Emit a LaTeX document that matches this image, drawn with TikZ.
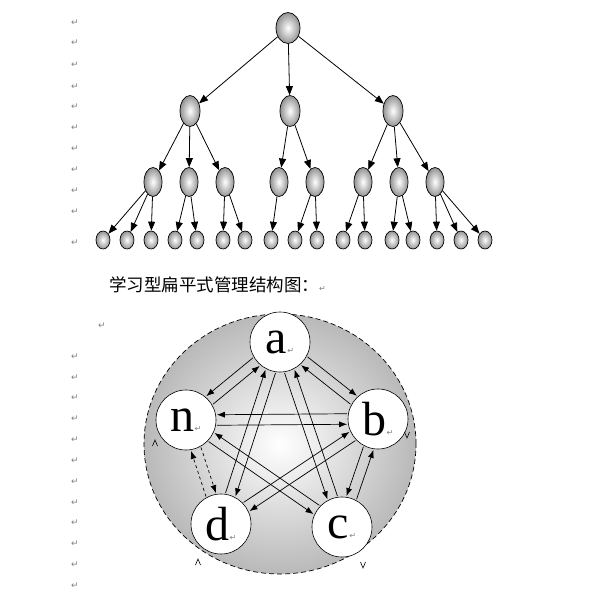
\documentclass[tikz,border=0pt]{standalone}
\usepackage{fontspec}
\setmainfont{Liberation Serif}
\newfontfamily\cjkfont{Noto Sans CJK SC}
\newfontfamily\symfont{DejaVu Sans}
\usetikzlibrary{arrows.meta,shapes.geometric}

\newcommand{\pmark}{{\symfont\fontsize{8}{8}\selectfont\textcolor{gray}{↵}}}

\begin{document}
\begin{tikzpicture}[x=1pt, y=-1pt,
        ball/.style={draw, ellipse, inner sep=0pt, line width=0.7pt, shade, inner color=white, outer color=gray!85},
        topball/.style={ball, minimum width=24pt, minimum height=31pt},
        midball/.style={ball, minimum width=20pt, minimum height=31pt},
        lowball/.style={ball, minimum width=18pt, minimum height=29pt},
        leafball/.style={ball, minimum width=14pt, minimum height=18pt},
        treearrow/.style={-{Triangle[length=9pt,width=7pt]}, line width=0.8pt},
        member/.style={draw, circle, fill=white, minimum size=60pt, inner sep=0pt, line width=0.6pt, font=\fontsize{48}{48}\selectfont},
        link/.style={-{Latex[length=8pt,width=6pt]}, line width=0.7pt, shorten >=1pt, shorten <=1pt},
        parmark/.style={text=gray, font=\symfont\fontsize{9}{9}\selectfont, inner sep=0pt},
        tipmark/.style={line width=0.6pt}
    ]
        \useasboundingbox (0,0) rectangle (594,603);

        % paragraph marks in the margin
        \foreach \py in {23,43,65,87,107,128,149,170,191,212,243,357,378,398,419,440,461,482,503,523,544,565,586}
            \node[parmark] (pm\py) at (75,\py) {↵};
        \node[parmark] (pmgap) at (102,326) {↵};

        % tree
        \node[topball] (r) at (288,28) {};
        \node[midball] (p1) at (190,111) {};
        \node[midball] (p2) at (290,111) {};
        \node[midball] (p3) at (393,111) {};
        \foreach \qx [count=\i] in {153,189,225,279,315,363,399,435}
            \node[lowball] (q\i) at (\qx,182) {};
        \foreach \fx [count=\i] in {103,127,151,175,197,223,245,271,295,317,343,365,392,413,437,461,485}
            \node[leafball] (f\i) at (\fx,240) {};

        \foreach \u/\v in {r/p1, r/p2, r/p3, p1/q1, p1/q2, p1/q3, p2/q4, p2/q5, p3/q6, p3/q7, p3/q8,
                q1/f1, q1/f2, q1/f3, q2/f4, q2/f5, q3/f6, q3/f7, q4/f8, q5/f9, q5/f10,
                q6/f11, q6/f12, q7/f13, q7/f14, q8/f15, q8/f16, q8/f17}
            \draw[treearrow] (\u) -- (\v);

        \node[anchor=west, inner sep=0pt, font=\cjkfont\fontsize{17.5}{17.5}\selectfont] (title) at (109,285) {学习型扁平式管理结构图：\pmark};

        % flat structure
        \node[draw, ellipse, dash pattern=on 5pt off 3pt, line width=0.7pt, shade, inner color=white, outer color=gray!55,
            minimum width=272pt, minimum height=260pt] (group) at (280,444) {};

        \node[member] (a) at (280,342) {a\pmark};
        \node[member] (n) at (186,420) {n\pmark};
        \node[member] (b) at (378,419) {b\pmark};
        \node[member] (d) at (221,524) {d\pmark};
        \node[member] (c) at (342,527) {c\pmark};

        \draw[link] (b.170) -- (n.10);
        \draw[link] (n.-10) -- (b.190);
        \draw[link] (n.30) -- (a.230);
        \draw[link] (a.210) -- (n.50);
        \draw[link] (a.332) -- (b.132);
        \draw[link] (b.152) -- (a.312);
        \draw[link] (a.262) -- (d.62);
        \draw[link] (d.82) -- (a.242);
        \draw[link] (c.98) -- (a.298);
        \draw[link] (a.278) -- (c.118);
        \draw[link] (c.136) -- (n.336);
        \draw[link] (n.316) -- (c.156);
        \draw[link] (b.224) -- (d.24);
        \draw[link] (d.44) -- (b.204);
        \draw[link] (c.62) -- (b.262);
        \draw[link] (b.242) -- (c.82);
        \draw[link, dashed] (n.299) -- (d.99);
        \draw[link, dashed] (d.119) -- (n.279);

        % open tips on the ring
        \draw[tipmark] (152.5,446) -- (155,440) -- (157.5,446);
        \draw[tipmark] (195.5,565) -- (198,559) -- (200.5,565);
        \draw[tipmark] (404.5,432) -- (407,438) -- (409.5,432);
        \draw[tipmark] (360.5,562) -- (363,568) -- (365.5,562);
    \end{tikzpicture}
\end{document}
